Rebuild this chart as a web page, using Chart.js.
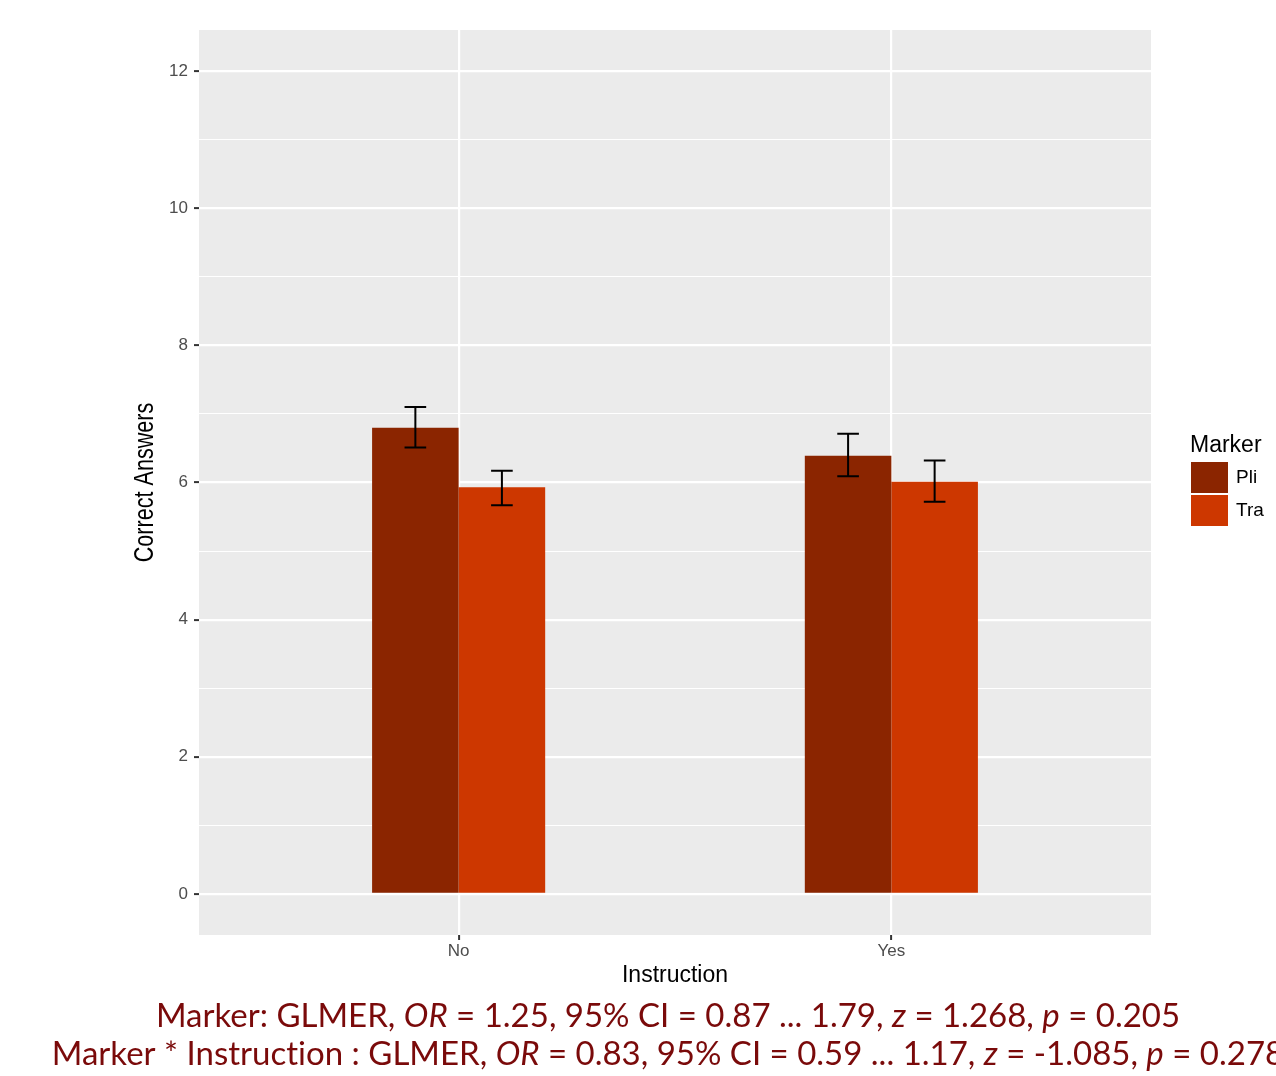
<!DOCTYPE html>
<html>
<head>
<meta charset="utf-8">
<script src="https://cdn.jsdelivr.net/npm/chart.js@4"></script>
<style>
  html, body { margin: 0; padding: 0; background: #fff; }
  #wrap { width: 1276px; height: 1076px; position: relative; }
</style>
</head>
<body>
<div id="wrap"><canvas id="chart"></canvas></div>
<script>
// ── data ─────────────────────────────────────────────────────────────────────
const instructions = ['No', 'Yes'];
const instructionPos = [1, 2];
const markers = ['Pli', 'Tra'];
const markerColors = ['#8B2500', '#CD3700'];

const pliMeans = [6.80, 6.39];
const pliLow = [6.51, 6.09];
const pliHigh = [7.10, 6.71];

const traMeans = [5.93, 6.01];
const traLow = [5.67, 5.72];
const traHigh = [6.17, 6.32];

const yTickValues = [0, 1, 2, 3, 4, 5, 6, 7, 8, 9, 10, 11, 12];

// caption lines: [text, italic]  (\u200C keeps Lato from fusing "ti")
const captionLine1 = [
  ['Marker: GLMER, ', false], ['OR', true], [' = 1.25, 95% CI = 0.87 ... 1.79, ', false],
  ['z', true], [' = 1.268, ', false], ['p', true], [' = 0.205', false],
];
const captionLine2 = [
  ['Marker * Instruct\u200Cion : GLMER, ', false], ['OR', true], [' = 0.83, 95% CI = 0.59 ... 1.17, ', false],
  ['z', true], [' = -1.085, ', false], ['p', true], [' = 0.278', false],
];

const errLow = [pliLow, traLow];
const errHigh = [pliHigh, traHigh];

const SANS = '"Liberation Sans", Arial, sans-serif';

// ── plugins ──────────────────────────────────────────────────────────────────
const panelBg = {
  id: 'panelBg',
  beforeDraw(chart) {
    const { ctx, chartArea: a } = chart;
    ctx.save();
    ctx.fillStyle = '#EBEBEB';
    ctx.fillRect(a.left, a.top, a.right - a.left, a.bottom - a.top);
    ctx.restore();
  },
};

const errorBars = {
  id: 'errorBars',
  afterDatasetsDraw(chart) {
    const { ctx } = chart;
    const yScale = chart.scales.y;
    ctx.save();
    ctx.strokeStyle = '#000';
    ctx.lineWidth = 2;
    chart.data.datasets.forEach((ds, di) => {
      const meta = chart.getDatasetMeta(di);
      meta.data.forEach((bar, i) => {
        const x = bar.x;
        const half = bar.width * 0.125;
        const yHi = yScale.getPixelForValue(errHigh[di][i]);
        const yLo = yScale.getPixelForValue(errLow[di][i]);
        ctx.beginPath();
        ctx.moveTo(x, yHi); ctx.lineTo(x, yLo);
        ctx.moveTo(x - half, yHi); ctx.lineTo(x + half, yHi);
        ctx.moveTo(x - half, yLo); ctx.lineTo(x + half, yLo);
        ctx.stroke();
      });
    });
    ctx.restore();
  },
};

// y-axis title, drawn narrow like the reference
const yTitle = {
  id: 'yTitle',
  afterDraw(chart) {
    const { ctx, chartArea: a } = chart;
    ctx.save();
    ctx.translate(153, (a.top + a.bottom) / 2);
    ctx.rotate(-Math.PI / 2);
    ctx.scale(0.8, 1);
    ctx.fillStyle = '#000';
    ctx.font = `27px ${SANS}`;
    ctx.textAlign = 'center';
    ctx.textBaseline = 'alphabetic';
    ctx.fillText('Correct Answers', 0, 0);
    ctx.restore();
  },
};

const sideLegend = {
  id: 'sideLegend',
  afterDraw(chart) {
    const { ctx } = chart;
    ctx.save();
    ctx.fillStyle = '#000';
    ctx.font = `23px ${SANS}`;
    ctx.textBaseline = 'alphabetic';
    ctx.fillText('Marker', 1190, 452);
    chart.data.datasets.forEach((ds, i) => {
      const top = 462 + i * 33;
      ctx.fillStyle = ds.backgroundColor;
      ctx.fillRect(1191, top, 37, 31);
      ctx.fillStyle = '#000';
      ctx.font = `19px ${SANS}`;
      ctx.textBaseline = 'middle';
      ctx.fillText(ds.label, 1236, top + 16);
    });
    ctx.restore();
  },
};

function drawCaptionLine(ctx, parts, cx, baseline, size) {
  const fam = 'Lato, "Noto Sans", sans-serif';
  const fontFor = (it) => `${it ? 'italic ' : ''}${size}px ${fam}`;
  let total = 0;
  parts.forEach(([t, it]) => { ctx.font = fontFor(it); total += ctx.measureText(t).width; });
  let x = cx - total / 2;
  parts.forEach(([t, it]) => {
    ctx.font = fontFor(it);
    ctx.fillText(t, x, baseline);
    x += ctx.measureText(t).width;
  });
}

const caption = {
  id: 'caption',
  afterDraw(chart) {
    const { ctx } = chart;
    ctx.save();
    ctx.fillStyle = '#7A0A0A';
    ctx.textBaseline = 'alphabetic';
    drawCaptionLine(ctx, captionLine1, 668, 1027, 33);
    drawCaptionLine(ctx, captionLine2, 668, 1065, 33);
    ctx.restore();
  },
};

// ── chart ────────────────────────────────────────────────────────────────────
const tickFont = { family: SANS, size: 17 };

new Chart(document.getElementById('chart'), {
  type: 'bar',
  data: {
    datasets: [
      {
        label: markers[0],
        data: instructionPos.map((x, i) => ({ x, y: pliMeans[i] })),
        backgroundColor: markerColors[0],
      },
      {
        label: markers[1],
        data: instructionPos.map((x, i) => ({ x, y: traMeans[i] })),
        backgroundColor: markerColors[1],
      },
    ],
  },
  options: {
    responsive: true,
    maintainAspectRatio: false,
    animation: false,
    categoryPercentage: 0.4,
    barPercentage: 1,
    layout: { padding: { top: 30, right: 125, bottom: 87, left: 0 } },
    plugins: {
      legend: { display: false },
      tooltip: { enabled: false },
    },
    scales: {
      x: {
        type: 'linear',
        min: 0.4,
        max: 2.6,
        offset: false,
        afterBuildTicks: (axis) => { axis.ticks = instructionPos.map((v) => ({ value: v })); },
        afterFit: (axis) => { axis.height = 54; },
        ticks: {
          callback: (v) => instructions[instructionPos.indexOf(v)],
          color: '#4D4D4D',
          font: tickFont,
          padding: 1,
          maxRotation: 0,
        },
        grid: {
          offset: false,
          color: '#FFFFFF',
          lineWidth: 2.2,
          tickColor: '#333333',
          tickLength: 5,
          tickWidth: 2,
        },
        border: { display: false },
        title: {
          display: true,
          text: 'Instruction',
          color: '#000',
          font: { family: SANS, size: 23 },
          padding: { top: 0, bottom: 0 },
        },
      },
      y: {
        min: -0.6,
        max: 12.6,
        afterBuildTicks: (axis) => { axis.ticks = yTickValues.map((v) => ({ value: v })); },
        afterFit: (axis) => { axis.width = 199; },
        ticks: {
          callback: (v) => (v % 2 === 0 ? String(v) : ''),
          color: '#4D4D4D',
          font: tickFont,
          padding: 6,
        },
        grid: {
          color: '#FFFFFF',
          lineWidth: (c) => (c.tick && c.tick.value % 2 === 0 ? 2.2 : 1.1),
          tickColor: (c) => (c.tick && c.tick.value % 2 === 0 ? '#333333' : 'rgba(0,0,0,0)'),
          tickLength: 5,
          tickWidth: 2,
        },
        border: { display: false },
        title: { display: false },
      },
    },
  },
  plugins: [panelBg, errorBars, yTitle, sideLegend, caption],
});
</script>
</body>
</html>
